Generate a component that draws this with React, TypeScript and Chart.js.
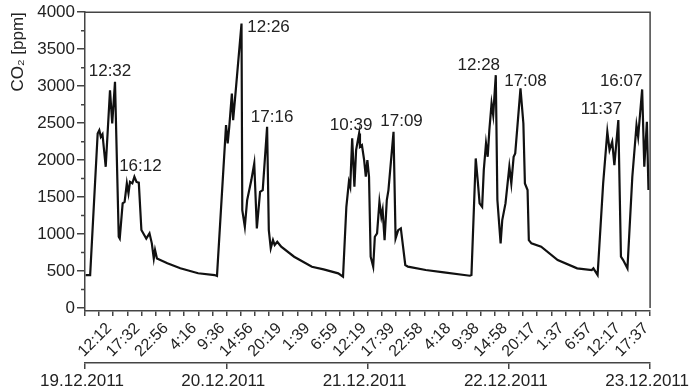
import { useEffect, useRef } from 'react';
import { Chart, registerables } from 'chart.js';

Chart.register(...registerables);

const FONT = '"Liberation Sans", Arial, Helvetica, sans-serif';

// Time in hours since 19.12.2011 00:00
const hours = [
  6.99, 7.84, 9.26, 9.57, 9.86, 10.17, 10.78, 11.59, 12.01, 12.533,
  13.24, 13.43, 13.98, 14.35, 14.77, 15.08, 15.37, 15.81, 16.2, 16.6,
  17.03, 17.52, 18.44, 19.05, 19.49, 19.86, 20.1, 20.46, 22.43, 24.87,
  28.24, 31.36, 31.8, 33.51, 33.82, 34.12, 34.61, 34.85, 35.35, 36.433,
  36.58, 37.06, 37.5, 38.29, 38.84, 39.33, 39.94, 40.44, 41.267, 41.59,
  41.96, 42.38, 42.7, 43.19, 43.93, 46.37, 49.73, 51.94, 54.7, 55.61,
  56.24, 56.72, 56.97, 57.34, 57.76, 58.08, 58.65, 58.81, 59.18, 59.6,
  59.91, 60.21, 60.52, 60.83, 61.31, 61.62, 62.04, 62.49, 62.85, 63.09,
  63.46, 63.88, 64.19, 65.15, 65.54, 66.03, 66.53, 66.95, 67.37, 67.87,
  71.23, 74.67, 79.57, 79.87, 80.68, 81.1, 81.41, 81.89, 82.2, 82.62,
  82.94, 83.25, 83.67, 83.98, 84.467, 84.77, 85.38, 85.69, 86.3, 87.03,
  87.4, 87.84, 88.14, 89.133, 89.68, 89.97, 90.47, 90.71, 91.2, 93.04,
  96.16, 99.84, 102.6, 102.91, 103.7, 104.75, 105.54, 105.96, 106.46, 106.87,
  107.617, 108.11, 108.53, 109.34, 110.26, 111.05, 111.36, 112.117, 112.52, 113.01,
  113.31,
];

const co2 = [
  446, 446, 2360, 2405, 2315, 2350, 1910, 2945, 2495, 3060,
  965, 940, 1415, 1435, 1685, 1550, 1705, 1685, 1775, 1705,
  1695, 1055, 940, 1010, 875, 670, 785, 670, 605, 537,
  470, 446, 433, 2473, 2226, 2450, 2900, 2540, 2946, 3847,
  1325, 1100, 1460, 1730, 1956, 1077, 1572, 1595, 2450, 1054,
  807, 919, 852, 896, 829, 694, 559, 523, 469, 423,
  1369, 1707, 1640, 2294, 1640, 2135, 2361, 2180, 2203, 2000,
  1775, 2000, 1775, 694, 559, 964, 1010, 1437, 1234, 1325,
  919, 1460, 1595, 2383, 942, 1054, 1077, 829, 582, 559,
  514, 483, 437, 446, 2023, 1685, 1415, 1369, 1865, 2226,
  2045, 2406, 2766, 2608, 3149, 1460, 875, 1190, 1415, 1910,
  1685, 2045, 2091, 2969, 2496, 1685, 1595, 919, 875, 829,
  649, 537, 514, 537, 446, 1685, 2383, 2135, 2248, 1933,
  2541, 694, 649, 537, 1775, 2473, 2315, 2956, 1910, 2518,
  1595,
];

const tickTimes = [
  '12:12', '17:32', '22:56', '4:16', '9:36', '14:56', '20:19', '1:39', '6:59', '12:19',
  '17:39', '22:58', '4:18', '9:38', '14:58', '20:17', '1:37', '6:57', '12:17', '17:37',
];
const tickDays = [19, 19, 19, 20, 20, 20, 20, 21, 21, 21, 21, 21, 22, 22, 22, 22, 23, 23, 23, 23];

const dateLabels = ['19.12.2011', '20.12.2011', '21.12.2011', '22.12.2011', '23.12.2011'];

const yTicks = [0, 500, 1000, 1500, 2000, 2500, 3000, 3500, 4000];
const yMinorTicks = [250, 750, 1250, 1750, 2250, 2750, 3250, 3750];

const peakTimes = ['12:32', '16:12', '12:26', '17:16', '10:39', '17:09', '12:28', '17:08', '11:37', '16:07'];
const peakDays = [19, 19, 20, 20, 21, 21, 22, 22, 23, 23];
// label placement relative to the peak (layout only)
const peakLabelOffsets: [number, number][] = [
  [-5, -10], [6, -10], [27, 4], [5, -10], [-8, -8], [8, -10], [-17, -10], [5, -7], [-17, -11], [-21, -8],
];

const toHours = (day: number, t: string) => {
  const [hh, mm] = t.split(':').map(Number);
  return (day - 19) * 24 + hh + mm / 60;
};

const labelHours = tickTimes.map((t, i) => toHours(tickDays[i], t));
const xMin = labelHours[0] - (labelHours[1] - labelHours[0]);
const xMax = labelHours[labelHours.length - 1];

const xTickValues: number[] = [];
const xTickText: string[] = [];
{
  const pts = [xMin, ...labelHours];
  pts.forEach((v, i) => {
    if (i > 0) {
      xTickValues.push((pts[i - 1] + v) / 2);
      xTickText.push('');
    }
    xTickValues.push(v);
    xTickText.push(i === 0 ? '' : tickTimes[i - 1]);
  });
}

const AXIS = '#444';
const TEXT = '#222';

export default function App() {
  const ref = useRef<HTMLCanvasElement>(null);

  useEffect(() => {
    document.body.style.margin = '0';
    const canvas = ref.current;
    if (!canvas) return;

    const framePlugin = {
      id: 'frame',
      afterDraw(chart: any) {
        const { ctx, chartArea } = chart;
        const ys = chart.scales.y;
        ctx.save();
        ctx.strokeStyle = AXIS;
        ctx.lineWidth = 1.5;
        ctx.beginPath();
        ctx.moveTo(chartArea.left, chartArea.top);
        ctx.lineTo(chartArea.right, chartArea.top);
        ctx.lineTo(chartArea.right, ys.getPixelForValue(0));
        ctx.stroke();
        ctx.beginPath();
        yMinorTicks.forEach((v) => {
          const y = ys.getPixelForValue(v);
          ctx.moveTo(chartArea.left - 4, y);
          ctx.lineTo(chartArea.left, y);
        });
        ctx.stroke();
        ctx.restore();
      },
    };

    const annoPlugin = {
      id: 'peaks',
      afterDatasetsDraw(chart: any) {
        const { ctx } = chart;
        const xs = chart.scales.x;
        const ys = chart.scales.y;
        ctx.save();
        ctx.font = `17px ${FONT}`;
        ctx.fillStyle = TEXT;
        ctx.textAlign = 'center';
        ctx.textBaseline = 'middle';
        peakTimes.forEach((t, i) => {
          const h = toHours(peakDays[i], t);
          let best = 0;
          hours.forEach((hv, j) => {
            if (Math.abs(hv - h) < Math.abs(hours[best] - h)) best = j;
          });
          const px = xs.getPixelForValue(h);
          const py = ys.getPixelForValue(co2[best]);
          const [dx, dy] = peakLabelOffsets[i];
          ctx.fillText(t, px + dx, py + dy);
        });
        ctx.restore();
      },
    };

    const chart = new Chart(canvas, {
      type: 'line',
      data: {
        datasets: [
          {
            data: hours.map((h, i) => ({ x: h, y: co2[i] })),
            borderColor: '#111',
            borderWidth: 2.2,
            pointRadius: 0,
            tension: 0,
            fill: false,
          },
        ],
      },
      options: {
        animation: false,
        responsive: false,
        devicePixelRatio: 1,
        layout: { padding: { top: 12, right: 28, left: 0, bottom: 0 } },
        plugins: { legend: { display: false }, tooltip: { enabled: false } },
        scales: {
          x: {
            type: 'linear',
            position: 'bottom',
            min: xMin,
            max: xMax,
            afterFit: (s: any) => {
              s.height = 52;
            },
            afterBuildTicks: (s: any) => {
              s.ticks = xTickValues.map((v) => ({ value: v }));
            },
            ticks: {
              autoSkip: false,
              minRotation: 45,
              maxRotation: 45,
              padding: 3,
              labelOffset: -4,
              font: { family: FONT, size: 16 },
              color: TEXT,
              callback: (_v: any, i: number) => xTickText[i],
            },
            grid: { drawOnChartArea: false, tickLength: 5, color: AXIS, lineWidth: 1.5 },
            border: { color: AXIS, width: 1.5 },
          },
          x2: {
            type: 'category',
            labels: dateLabels,
            position: 'bottom',
            offset: false,
            weight: 1,
            afterFit: (s: any) => {
              s.height = 27;
            },
            ticks: {
              autoSkip: false,
              minRotation: 0,
              maxRotation: 0,
              padding: 2,
              labelOffset: -3,
              font: { family: FONT, size: 17 },
              color: TEXT,
            },
            grid: { drawOnChartArea: false, offset: false, tickLength: 6, color: AXIS, lineWidth: 1.5 },
            border: { color: AXIS, width: 1.5 },
          },
          y: {
            type: 'linear',
            min: -40,
            max: 4000,
            afterFit: (s: any) => {
              s.width = 85;
            },
            afterBuildTicks: (s: any) => {
              s.ticks = yTicks.map((v) => ({ value: v }));
            },
            ticks: {
              padding: 2,
              font: { family: FONT, size: 17 },
              color: TEXT,
              callback: (v: any) => String(v),
            },
            grid: { drawOnChartArea: false, tickLength: 8, color: AXIS, lineWidth: 1.5 },
            border: { color: AXIS, width: 1.5 },
            title: {
              display: true,
              text: 'CO₂ [ppm]',
              align: 'end',
              font: { family: FONT, size: 17 },
              color: TEXT,
              padding: { top: 8, bottom: 0 },
            },
          },
        },
      } as any,
      plugins: [framePlugin, annoPlugin],
    });

    return () => chart.destroy();
  }, []);

  return (
    <canvas
      ref={ref}
      width={694}
      height={390}
      style={{ display: 'block', width: 694, height: 390 }}
    />
  );
}
